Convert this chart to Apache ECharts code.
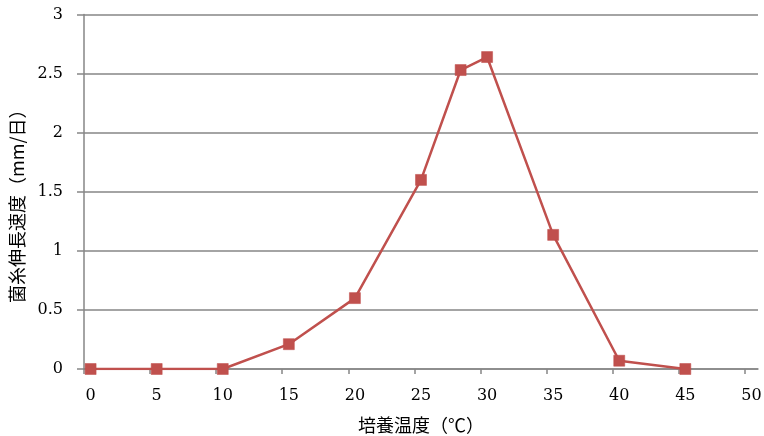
<!DOCTYPE html>
<html>
<head>
<meta charset="utf-8">
<script src="https://cdn.jsdelivr.net/npm/echarts@6/dist/echarts.min.js"></script>
<style>html,body{margin:0;padding:0;background:#fff}#c{width:764px;height:436px}</style>
</head>
<body>
<div id="c"></div>
<script>
var temperatures = [0, 5, 10, 15, 20, 25, 28, 30, 35, 40, 45];
var growthRates = [0, 0, 0, 0.21, 0.60, 1.60, 2.53, 2.64, 1.135, 0.07, 0];
var xTickLabels = [0, 5, 10, 15, 20, 25, 30, 35, 40, 45, 50];
var yTickLabels = [0, 0.5, 1, 1.5, 2, 2.5, 3];

var TICK_SHIFT = 0.5; // tick marks sit slightly left of their labels in the reference
var serif = '"DejaVu Serif","Liberation Serif",serif';
var cjk = '"Noto Sans CJK JP","Liberation Serif",sans-serif';
var gray = '#868686';

var chart = echarts.init(document.getElementById('c'), null, {renderer: 'canvas'});
chart.setOption({
  animation: false,
  backgroundColor: '#fff',
  grid: {left: 84, right: 6, top: 14.5, bottom: 67, containLabel: false, outerBoundsMode: 'none'},
  xAxis: {
    type: 'value',
    min: -TICK_SHIFT,
    max: 51 - TICK_SHIFT,
    name: '培養温度（℃）',
    nameLocation: 'middle',
    nameGap: 47,
    nameTextStyle: {fontFamily: cjk, fontSize: 18, color: '#000'},
    axisLine: {onZero: false, lineStyle: {color: gray, width: 1.5}},
    axisTick: {show: true, length: 5, lineStyle: {color: gray, width: 1.5},
      customValues: xTickLabels.map(function (v) { return v - TICK_SHIFT; })},
    axisLabel: {customValues: xTickLabels, margin: 19, fontFamily: serif, fontSize: 16, color: '#000'},
    splitLine: {show: false}
  },
  yAxis: {
    type: 'value',
    min: 0,
    max: 3,
    interval: 0.5,
    name: '菌糸伸長速度（mm/日）',
    nameLocation: 'middle',
    nameGap: 52,
    nameRotate: 90,
    nameTextStyle: {fontFamily: cjk, fontSize: 18, color: '#000', padding: [0, 20, 0, 0]},
    axisLine: {show: true, onZero: false, lineStyle: {color: gray, width: 1.5}},
    axisTick: {show: true, length: 7, lineStyle: {color: gray, width: 1.5}},
    axisLabel: {margin: 21, fontFamily: serif, fontSize: 16, color: '#000',
      formatter: function (v) { return yTickLabels.indexOf(v) >= 0 ? String(v) : ''; }},
    splitLine: {show: true, lineStyle: {color: gray, width: 1.5}}
  },
  series: [{
    type: 'line',
    data: temperatures.map(function (t, i) { return [t, growthRates[i]]; }),
    symbol: 'rect',
    symbolSize: 11,
    showAllSymbol: true,
    lineStyle: {color: '#C0504D', width: 2.5},
    itemStyle: {color: '#C0504D', borderColor: '#BE4B48', borderWidth: 0.5}
  }]
});
</script>
</body>
</html>
